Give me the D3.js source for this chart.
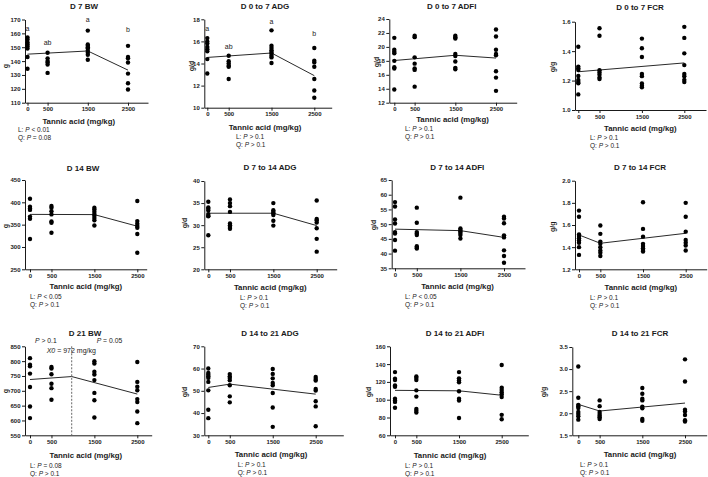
<!DOCTYPE html>
<html><head><meta charset="utf-8">
<script src="https://cdn.jsdelivr.net/npm/d3@7"></script>
<style>
body{margin:0;background:#fff}
svg{display:block;font-family:Arial,"Liberation Sans",sans-serif}
</style>
</head><body>
<svg id="c" width="708" height="477"></svg>
<script>
// ---------- DATA ----------
const doses = [0, 500, 1500, 2500];
const titles = ["D 7 BW","D 0 to 7 ADG","D 0 to 7 ADFI","D 0 to 7 FCR",
                "D 14 BW","D 7 to 14 ADG","D 7 to 14 ADFI","D 7 to 14 FCR",
                "D 21 BW","D 14 to 21 ADG","D 14 to 21 ADFI","D 14 to 21 FCR"];
const yUnits = ["g","g/d","g/d","g/g","g","g/d","g/d","g/g","g","g/d","g/d","g/g"];
const yTicks = [
  [110,120,130,140,150,160,170],
  [10,12,14,16,18],
  [12,14,16,18,20,22,24],
  [1.0,1.2,1.4,1.6],
  [250,300,350,400,450],
  [20,25,30,35,40],
  [35,40,45,50,55,60,65],
  [1.2,1.4,1.6,1.8,2.0],
  [550,600,650,700,750,800,850],
  [30,40,50,60,70],
  [60,80,100,120,140,160],
  [1.5,2.0,2.5,3.0,3.5]
];
const tickDecimals = [0,0,0,1,0,0,0,1,0,0,0,1];

// observations per dose group (0, 500, 1500, 2500 mg/kg)
const bwD7 = [
  [157,155.5,153.5,152,150.5,149,143,134.5],
  [146,142,140,139,137.5,131.5],
  [162,152,151,150,149,147.5,146,144.5,141],
  [151,143,142,139,131,124,119.5]
];
const adgD0to7 = [
  [16.3,16.0,15.8,15.5,15.3,15.1,14.4,13.1],
  [14.7,14.2,14.0,13.8,13.7,12.6],
  [17.0,15.6,15.4,15.2,15.05,14.9,14.7,14.55,14.05],
  [15.4,14.25,14.1,13.7,12.6,11.55,10.9]
];
const adfiD0to7 = [
  [21.3,19.6,19.3,19.1,18.0,17.1,16.9,13.9],
  [21.6,21.4,18.5,17.6,16.9,16.7,14.3],
  [21.6,21.4,21.2,19.0,18.7,17.9,17.0,16.8],
  [22.5,21.5,19.6,19.0,18.8,16.5,15.6,13.7]
];
const fcrD0to7 = [
  [1.43,1.295,1.283,1.272,1.231,1.204,1.19,1.181,1.106],
  [1.555,1.505,1.27,1.255,1.24,1.22,1.21],
  [1.485,1.42,1.36,1.245,1.23,1.18,1.165,1.155],
  [1.565,1.49,1.385,1.305,1.245,1.23,1.205,1.19]
];
const bwD14 = [
  [408,390,386,383,368,363,318],
  [392,388,380,373,357,354,332],
  [388,384,379,374,370,365,360,348],
  [403,358,352,347,343,329,287]
];
const adgD7to14 = [
  [35.3,34.0,33.7,33.3,32.5,32.1,32.0,27.7],
  [35.8,35.0,34.3,33.0,30.4,30.0,29.6,29.2],
  [35.0,33.4,33.0,32.7,32.3,31.0,29.9],
  [35.6,31.4,31.1,30.6,29.3,26.9,24.0]
];
const adfiD7to14 = [
  [57.5,56.0,51.6,50.2,47.3,46.8,44.6,41.0],
  [55.6,50.5,47.3,46.8,46.3,42.5,42.0,41.7],
  [59.0,48.5,48.0,47.5,47.0,46.3,45.1],
  [52.5,51.9,50.3,46.2,45.5,41.1,39.2,36.9]
];
const fcrD7to14 = [
  [1.73,1.675,1.515,1.50,1.48,1.46,1.44,1.40,1.33],
  [1.595,1.52,1.45,1.43,1.40,1.37,1.35,1.32],
  [1.805,1.565,1.495,1.43,1.41,1.39,1.375,1.36],
  [1.80,1.675,1.54,1.465,1.44,1.415,1.37]
];
const bwD21 = [
  [810,788,783,758,713,647,608],
  [780,775,756,724,709,670],
  [800,792,764,755,736,693,668,610],
  [797,730,714,702,672,662,630,591]
];
const adgD14to21 = [
  [60,58,57.2,56.5,55.8,54,50.2,41.5,37.7],
  [57.5,56.5,55.7,54.7,52.5,47.5,44.8],
  [59.8,57.6,55.6,53.5,52.5,49.0,42.5,33.8],
  [56.2,55.3,54.6,50.8,50.1,45.3,43.0,34.1]
];
const adfiD14to21 = [
  [131,123.5,122,116,114.5,101,99,97.5,91],
  [126,124.5,122,110.5,103.5,89.5,87.5,85.5],
  [131,124,121.5,119.5,109.5,101,99,79.5],
  [139,113.5,111,108.5,106,103,83,78]
];
const fcrD14to21 = [
  [3.06,2.35,2.19,2.16,2.12,2.03,1.98,1.93,1.855],
  [2.29,2.16,2.03,1.98,1.94,1.91,1.87],
  [2.57,2.44,2.33,2.29,2.15,2.11,1.87,1.83],
  [3.22,2.72,2.08,2.04,1.96,1.84,1.81]
];
const observations = [bwD7,adgD0to7,adfiD0to7,fcrD0to7,bwD14,adgD7to14,adfiD7to14,fcrD7to14,bwD21,adgD14to21,adfiD14to21,fcrD14to21];

// fitted (broken-line / linear) regression nodes [dose, value]
const fitLines = [
  [[0,145],[1500,147.3],[2500,133.5]],
  [[0,14.55],[1500,14.95],[2500,12.9]],
  [[0,18.05],[1500,18.8],[2500,18.4]],
  [[0,1.26],[2500,1.32]],
  [[0,373],[1500,372.5],[2500,346.5]],
  [[0,32.7],[1500,32.7],[2500,29.9]],
  [[0,48.3],[1500,47.8],[2500,45.5]],
  [[0,1.51],[500,1.435],[2500,1.525]],
  [[0,738],[972,748],[2500,689]],
  [[0,51.5],[500,53],[2500,48.5]],
  [[0,110.5],[1500,110],[2500,105]],
  [[0,2.2],[500,2.05],[2500,2.23]]
];

// linear (L) and quadratic (Q) P statements: [operator, value]
const linP = [["<","0.01"],[">","0.1"],[">","0.1"],[">","0.1"],["<","0.05"],[">","0.1"],["<","0.05"],[">","0.1"],["=","0.08"],[">","0.1"],[">","0.1"],[">","0.1"]];
const quadP = [["=","0.08"],[">","0.1"],[">","0.1"],[">","0.1"],[">","0.1"],[">","0.1"],[">","0.1"],[">","0.1"],[">","0.1"],[">","0.1"],[">","0.1"],[">","0.1"]];

// significance letters (letters per dose, letter baseline value)
const lettersBW7 = ["a","ab","a","b"];
const lettersBW7At = [162,151.5,168,161];
const lettersADG7 = ["a","ab","a","b"];
const lettersADG7At = [16.9,15.3,17.6,16.5];

// breakpoint annotation, D 21 BW
const breakPoint = 972;
const bpLeftP = [">","0.1"];
const bpRightP = ["=","0.05"];

// ---------- LAYOUT (pixel frames) ----------
const frames = [
  {left:25,x0:27.5,x1:128,right:148,top:19.5,bottom:102.7,tx:84,ty:8.5,lx:6,ly:66,ax:78.7,ay:123.6,qx:18,qy:131.6},
  {left:204.3,x0:207.3,x1:314.3,right:331.7,top:19.3,bottom:107.7,tx:265,ty:9,lx:192,ly:66,ax:265,ay:130.3,qx:236,qy:138.7},
  {left:389.3,x0:394.3,x1:496,right:516.7,top:19,bottom:102.7,tx:451.7,ty:8.7,lx:377,ly:62,ax:452.5,ay:122.4,qx:405,qy:130.8},
  {left:575,x0:578.3,x1:684.3,right:706,top:21.7,bottom:110,tx:640,ty:9.7,lx:553,ly:67,ax:640.3,ay:131.3,qx:590,qy:139.8},
  {left:25,x0:30,x1:137.3,right:146.7,top:180,bottom:269.3,tx:83,ty:171.3,lx:6,ly:226,ax:85.8,ay:289.3,qx:30,qy:299.2},
  {left:204.3,x0:208.3,x1:316.7,right:336.7,top:181,bottom:269.3,tx:270,ty:169.7,lx:185,ly:223,ax:270.2,ay:290.3,qx:240,qy:300.2},
  {left:391.7,x0:395,x1:504,right:525,top:180,bottom:268.3,tx:457.3,ty:169.7,lx:373.3,ly:225,ax:457.5,ay:289.3,qx:405,qy:299.2},
  {left:575,x0:579,x1:685.7,right:706.7,top:180.7,bottom:269.3,tx:640,ty:170.3,lx:552.7,ly:226.7,ax:640.8,ay:289.9,qx:590,qy:300.2},
  {left:25,x0:30,x1:137.3,right:151.7,top:346.3,bottom:435.3,tx:85,ty:335.7,lx:6,ly:391,ax:85.8,ay:457.9,qx:30,qy:467.8},
  {left:204.3,x0:208.3,x1:315.7,right:343.3,top:346.3,bottom:435.3,tx:270,ty:335.7,lx:185,ly:392,ax:271,ay:457.3,qx:237.7,qy:467.2},
  {left:390,x0:395,x1:501.7,right:528.3,top:346.3,bottom:435.3,tx:455,ty:335.7,lx:368.3,ly:392,ax:450,ay:457.9,qx:405,qy:467.8},
  {left:572.3,x0:578.3,x1:685,right:706.7,top:347,bottom:435.3,tx:640,ty:336,lx:543.3,ly:392,ax:640,ay:457.3,qx:580,qy:467.2}
];

// ---------- DRAW ----------
const svg = d3.select("#c");
const ink = "#1a1a1a";

function pText(g, x, y, prefix, op, val, size) {
  const t = g.append("text").attr("x", x).attr("y", y)
    .attr("font-size", size).attr("fill", ink);
  if (prefix) t.append("tspan").text(prefix);
  t.append("tspan").attr("font-style","italic").text("P");
  t.append("tspan").text(" " + op + " " + val);
  return t;
}

frames.forEach((f, i) => {
  const g = svg.append("g");
  const x = d3.scaleLinear().domain([0, 2500]).range([f.x0, f.x1]);
  const xa = d3.scaleLinear().domain([x.invert(f.left), x.invert(f.right)]).range([f.left, f.right]);
  const yt = yTicks[i];
  const y = d3.scaleLinear().domain([yt[0], yt[yt.length - 1]]).range([f.bottom, f.top]);

  const xAxis = g.append("g").attr("transform", `translate(0,${f.bottom})`)
    .call(d3.axisBottom(xa).tickValues(doses).tickFormat(d3.format("d")).tickSize(3).tickPadding(1.5).tickSizeOuter(0));
  const yAxis = g.append("g").attr("transform", `translate(${f.left},0)`)
    .call(d3.axisLeft(y).tickValues(yt).tickFormat(d3.format("." + tickDecimals[i] + "f")).tickSize(3).tickPadding(1.5).tickSizeOuter(0));
  [xAxis, yAxis].forEach(a => {
    a.selectAll("path,line").attr("stroke", ink).attr("stroke-width", 1);
    a.selectAll("text").attr("font-size", 6).attr("font-weight", "bold").attr("fill", ink)
      .attr("font-family", "Arial, 'Liberation Sans', sans-serif");
  });

  // title
  g.append("text").attr("x", f.tx).attr("y", f.ty).attr("text-anchor", "middle")
    .attr("font-size", 8).attr("font-weight", "bold").attr("fill", ink).text(titles[i]);
  // y label
  g.append("text").attr("transform", `translate(${f.lx},${f.ly}) rotate(-90)`)
    .attr("text-anchor", "middle").attr("dy", "0.35em")
    .attr("font-size", 7).attr("font-weight", "bold").attr("fill", ink).text(yUnits[i]);
  // x title
  g.append("text").attr("x", f.ax).attr("y", f.ay).attr("text-anchor", "middle")
    .attr("font-size", 7.8).attr("font-weight", "bold").attr("fill", ink).text("Tannic acid (mg/kg)");

  // fit line
  g.append("path").datum(fitLines[i])
    .attr("d", d3.line().x(d => x(d[0])).y(d => y(d[1])))
    .attr("fill", "none").attr("stroke", "#2a2a2a").attr("stroke-width", 1);

  // dots
  observations[i].forEach((vals, j) => {
    g.selectAll(null).data(vals).enter().append("circle")
      .attr("cx", x(doses[j])).attr("cy", d => y(d)).attr("r", 2.2).attr("fill", "#000");
  });

  // L / Q statements
  pText(g, f.qx, f.qy, "L: ", linP[i][0], linP[i][1], 6.5);
  pText(g, f.qx, f.qy + 8, "Q: ", quadP[i][0], quadP[i][1], 6.5);

  // letters
  const addLetters = (letters, at) => letters.forEach((l, j) => {
    g.append("text").attr("x", x(doses[j])).attr("y", y(at[j])).attr("text-anchor", "middle")
      .attr("font-size", 7).attr("fill", "#222").text(l);
  });
  if (i === 0) addLetters(lettersBW7, lettersBW7At);
  if (i === 1) addLetters(lettersADG7, lettersADG7At);

  // breakpoint
  if (i === 8) {
    g.append("line").attr("x1", x(breakPoint)).attr("x2", x(breakPoint))
      .attr("y1", f.top).attr("y2", f.bottom)
      .attr("stroke", "#666").attr("stroke-width", 1).attr("stroke-dasharray", "2,1.5");
    pText(g, 35, 342.5, "", bpLeftP[0], bpLeftP[1], 6.8);
    pText(g, 96.7, 342.5, "", bpRightP[0], bpRightP[1], 6.8);
    const t = g.append("text").attr("x", 46.7).attr("y", 353.3).attr("font-size", 7).attr("fill", ink);
    t.append("tspan").attr("font-style", "italic").text("X0");
    t.append("tspan").text(" = " + breakPoint + " mg/kg");
  }
});
</script>
</body></html>
